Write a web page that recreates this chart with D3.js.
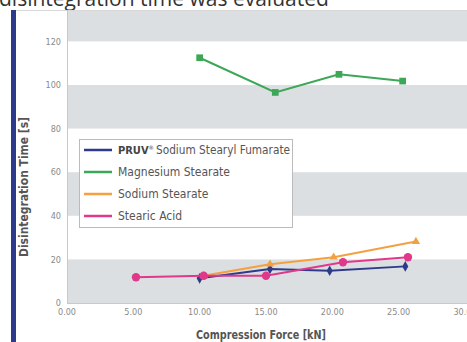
<!DOCTYPE html>
<html><head><meta charset="utf-8">
<script src="https://cdn.jsdelivr.net/npm/d3@7"></script>
<style>
html,body{margin:0;padding:0;background:#fff;}
svg{display:block;}
</style></head>
<body>
<svg id="chart" width="467" height="342"></svg>
<script>
const xTicks = [0, 5, 10, 15, 20, 25, 30];
const xTickLabels = ["0.00", "5.00", "10.00", "15.00", "20.00", "25.00", "30.00"];
const yTicks = [0, 20, 40, 60, 80, 100, 120];
const seriesNames = ["Sodium Stearyl Fumarate", "Magnesium Stearate", "Sodium Stearate", "Stearic Acid"];
const xBlue = [10.0, 15.3, 19.8, 25.5];
const yBlue = [11.3, 15.6, 14.8, 16.8];
const xGreen = [10.0, 15.7, 20.5, 25.3];
const yGreen = [112.5, 96.6, 104.9, 101.8];
const xOrange = [10.3, 15.3, 20.1, 26.3];
const yOrange = [12.5, 17.8, 21.0, 28.2];
const xPink = [5.2, 10.3, 15.0, 20.8, 25.7];
const yPink = [11.8, 12.5, 12.5, 18.7, 21.0];

const svg = d3.select("#chart");
const font = "'DejaVu Sans Condensed','Liberation Sans Narrow',sans-serif";

// caption (cropped)
svg.append("text").attr("x", -1).attr("y", 6).attr("font-family", "'Open Sans',sans-serif")
  .attr("font-size", 21).attr("fill", "#333").text("disintegration time was evaluated");

const pTop = 10, pLeft = 67, pBottom = 303;
const x = d3.scaleLinear().domain([0, 30]).range([67, 465]);
const y = d3.scaleLinear().domain([0, 120]).range([303, 41.4]);

// panel
svg.append("rect").attr("x", 16).attr("y", pTop).attr("width", 451).attr("height", 332).attr("fill", "#fff");
svg.append("line").attr("x1", 16).attr("x2", 467).attr("y1", pTop + 0.5).attr("y2", pTop + 0.5).attr("stroke", "#d8d8d8");
svg.append("rect").attr("x", 11).attr("y", pTop).attr("width", 5).attr("height", 342 - pTop).attr("fill", "#2c3a8c");

// bands
const bands = [[0, 20], [40, 60], [80, 100], [120, 140]];
svg.append("g").selectAll("rect").data(bands).join("rect")
  .attr("x", pLeft).attr("width", 467 - pLeft)
  .attr("y", d => Math.max(pTop + 1, y(d[1])))
  .attr("height", d => y(d[0]) - Math.max(pTop + 1, y(d[1])))
  .attr("fill", "#dcdfe2");

// axes lines
svg.append("line").attr("x1", pLeft + 0.5).attr("x2", pLeft + 0.5).attr("y1", pTop).attr("y2", pBottom).attr("stroke", "#c8c8c8");
svg.append("line").attr("x1", pLeft).attr("x2", 467).attr("y1", pBottom + 0.5).attr("y2", pBottom + 0.5).attr("stroke", "#c8c8c8");

// y tick labels
svg.append("g").selectAll("text").data(yTicks).join("text")
  .attr("x", 61).attr("y", d => y(d)).attr("dy", "0.35em").attr("text-anchor", "end")
  .attr("font-family", font).attr("font-size", 9).attr("fill", "#8a8a8a").text(d => d);
// x tick labels
svg.append("g").selectAll("text").data(xTicks).join("text")
  .attr("x", d => x(d)).attr("y", 315).attr("text-anchor", "middle")
  .attr("font-family", font).attr("font-size", 9).attr("fill", "#8a8a8a").text((d, i) => xTickLabels[i]);

// axis titles
svg.append("text").attr("x", 261).attr("y", 339).attr("text-anchor", "middle")
  .attr("font-family", font).attr("font-size", 12.5).attr("font-weight", "bold").attr("fill", "#555")
  .attr("textLength", 130).attr("lengthAdjust", "spacingAndGlyphs")
  .text("Compression Force [kN]");
svg.append("text").attr("transform", "translate(27.5,187) rotate(-90)").attr("text-anchor", "middle")
  .attr("font-family", font).attr("font-size", 12).attr("font-weight", "bold").attr("fill", "#555")
  .attr("textLength", 140).attr("lengthAdjust", "spacingAndGlyphs")
  .text("Disintegration Time [s]");

const line = d3.line().x(d => x(d[0])).y(d => y(d[1]));
function series(xs, ys, color, sym, size) {
  const pts = xs.map((v, i) => [v, ys[i]]);
  svg.append("path").datum(pts).attr("d", line).attr("fill", "none").attr("stroke", color).attr("stroke-width", 2);
  svg.append("g").selectAll("path").data(pts).join("path")
    .attr("transform", d => `translate(${x(d[0])},${y(d[1])})`)
    .attr("d", d3.symbol().type(sym).size(size)).attr("fill", color);
}
series(xGreen, yGreen, "#3ba757", d3.symbolSquare, 45);
series(xBlue, yBlue, "#2e3b8a", d3.symbolDiamond, 32);
series(xOrange, yOrange, "#f4a03e", d3.symbolTriangle, 30);
series(xPink, yPink, "#e0388a", d3.symbolCircle, 55);

// legend
const lg = svg.append("g");
lg.append("rect").attr("x", 79.5).attr("y", 139.5).attr("width", 213).attr("height", 88)
  .attr("fill", "#fff").attr("stroke", "#bbb");
const colors = ["#2e3b8a", "#3ba757", "#f4a03e", "#e0388a"];
const rowY = [150, 172, 194, 216];
seriesNames.forEach((n, i) => {
  lg.append("line").attr("x1", 84).attr("x2", 112).attr("y1", rowY[i]).attr("y2", rowY[i])
    .attr("stroke", colors[i]).attr("stroke-width", 2.5);
  const t = lg.append("text").attr("x", 118).attr("y", rowY[i] + 4)
    .attr("font-family", font).attr("font-size", 12).attr("fill", "#555");
  if (i === 0) {
    t.append("tspan").attr("font-size", 11).attr("font-weight", "bold").attr("fill", "#444").text("PRUV");
    t.append("tspan").attr("dy", -4).attr("font-size", 6).attr("fill", "#444").text("®");
    t.append("tspan").attr("x", 156).attr("dy", 4)
      .attr("textLength", 134).attr("lengthAdjust", "spacingAndGlyphs").text(n);
  } else {
    t.text(n);
  }
});
</script>
</body></html>
